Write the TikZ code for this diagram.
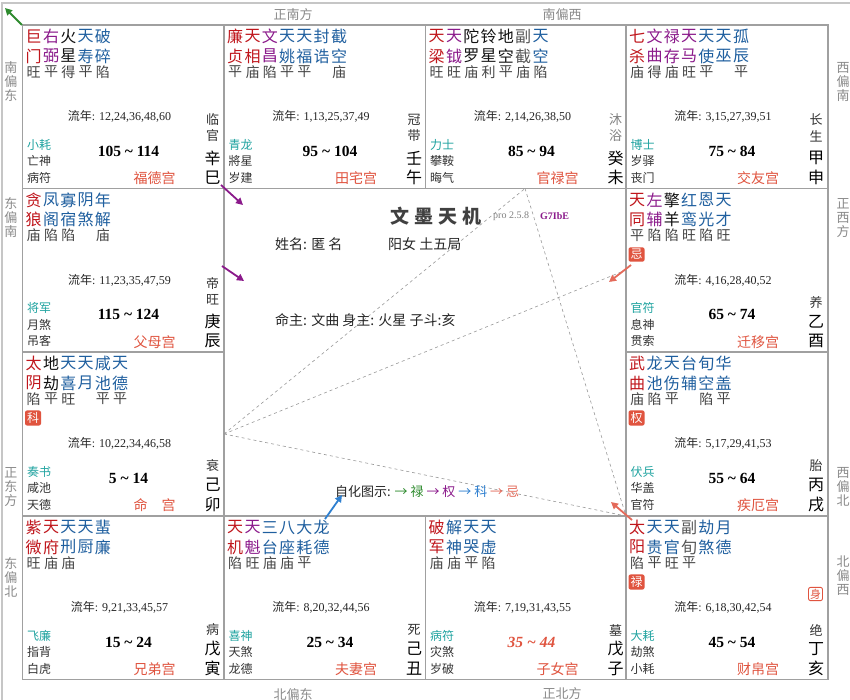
\documentclass[tikz,border=0pt]{standalone}
\usepackage{fontspec}
\setmainfont{Liberation Serif}
\newfontfamily\cjk{Noto Sans CJK SC}
\usetikzlibrary{arrows.meta}
\definecolor{sr}{HTML}{C0161C}
\definecolor{sp}{HTML}{8B1A8B}
\definecolor{sb}{HTML}{1F5F9F}
\definecolor{sk}{HTML}{111111}
\definecolor{sg}{HTML}{555555}
\definecolor{brc}{HTML}{444444}
\definecolor{tealc}{HTML}{1FA3A0}
\definecolor{godc}{HTML}{333333}
\definecolor{palred}{HTML}{E0543F}
\definecolor{gridc}{HTML}{A0A0A0}
\definecolor{dirc}{HTML}{8A8A8A}
\definecolor{stagec}{HTML}{333333}
\definecolor{huagreen}{HTML}{2E8B2E}
\definecolor{huapur}{HTML}{8B1A8B}
\definecolor{huablue}{HTML}{2F80D0}
\definecolor{huared}{HTML}{E46A5A}
\tikzset{
  starf/.style={font=\cjk\fontsize{16}{16}\selectfont, inner sep=0},
  brf/.style={font=\cjk\fontsize{14}{14}\selectfont, text=brc, inner sep=0},
  lnf/.style={font=\fontsize{12}{12}\selectfont, text=black!85, inner sep=0},
  godf/.style={anchor=west, font=\cjk\fontsize{12}{12}\selectfont, text=godc, inner sep=0},
  rngf/.style={font=\bfseries\fontsize{15.5}{15.5}\selectfont, inner sep=0},
  palf/.style={font=\cjk\fontsize{14}{14}\selectfont, text=palred, inner sep=0},
  gzf/.style={font=\cjk\fontsize{16}{16}\selectfont, text=black, inner sep=0},
  stgf/.style={font=\cjk\fontsize{13}{13}\selectfont, inner sep=0},
  badge/.style={fill=palred, text=white, rounded corners=2pt, inner sep=2pt, font=\cjk\fontsize{12}{12}\selectfont},
  shen/.style={draw=palred, text=palred, fill=white, rounded corners=2pt, line width=0.9pt, inner sep=1.5pt, font=\cjk\fontsize{11}{11}\selectfont},
  dirv/.style={font=\cjk\fontsize{13}{14}\selectfont, text=dirc, align=center, inner sep=0},
  dirh/.style={font=\cjk\fontsize{13}{13}\selectfont, text=dirc, inner sep=0},
  cellline/.style={draw=gridc, line width=1.3pt},
  tri/.style={draw=gray!80, dashed, line width=0.6pt},
  hua/.style={line width=1.8pt, -{Triangle[length=7pt,width=7pt]}},
  ctext/.style={font=\cjk\fontsize{14}{14}\selectfont, text=black!85, inner sep=0, anchor=west}
}
\newcommand\starc[5]{%
  \node[starf,text=#2] (s#1a) at ({11.2+17.3*#1},11.5) {#3};
  \node[starf,text=#2] (s#1b) at ({11.2+17.3*#1},31) {#4};
  \node[brf] (s#1c) at ({11.2+17.3*#1},47) {#5};}
\newcommand\cellinfo[6][]{%
  \node[lnf] (ln) at (97,91.5) {{\cjk 流年}: #2};
  \node[godf,text=tealc] (g1) at (4.5,119.5) {#3};
  \node[godf] (g2) at (4.5,136) {#4};
  \node[godf] (g3) at (4.5,152.8) {#5};
  \node[rngf,#1] (rg) at (106,126) {#6};}
\newcommand\palinfo[3]{%
  \node[palf] (pn) at (132,153.5) {#1};
  \node[gzf] (gz1) at (190,133) {#2};
  \node[gzf] (gz2) at (190,152.5) {#3};}
\newcommand\stagetwo[3][stagec]{%
  \node[stgf,text=#1] (st1) at (190,95) {#2};
  \node[stgf,text=#1] (st2) at (190,111) {#3};}
\newcommand\stageone[1]{\node[stgf,text=stagec] (st1) at (190,114) {#1};}
\newcommand\cellbox[1]{\draw[cellline] (0,0) rectangle (#1,163.5);}
\newcommand\tl{\ \textasciitilde\ }
\begin{document}
\begin{tikzpicture}[x=1pt,y=-1pt]
\useasboundingbox (0,0) rectangle (850,700);
\fill[white] (0,0) rectangle (850,700);
\draw[gray!45, line width=1.2pt] (2,700) -- (2,3) -- (850,3);

% direction labels
\node[dirh] (dn1) at (293,15) {正南方};
\node[dirh] (dn2) at (562,15) {南偏西};
\node[dirh] (ds1) at (293,694) {北偏东};
\node[dirh] (ds2) at (562,694) {正北方};
\node[dirv] (dw1) at (11,82) {南\\偏\\东};
\node[dirv] (dw2) at (11,218) {东\\偏\\南};
\node[dirv] (dw3) at (11,487) {正\\东\\方};
\node[dirv] (dw4) at (11,577) {东\\偏\\北};
\node[dirv] (de1) at (843,82) {西\\偏\\南};
\node[dirv] (de2) at (843,218) {正\\西\\方};
\node[dirv] (de3) at (843,487) {西\\偏\\北};
\node[dirv] (de4) at (843,576) {北\\偏\\西};

% 巳 福德宫
\begin{scope}[shift={(22.5,25)}, name prefix=si-]
\cellbox{201.5}
\starc{0}{sr}{巨}{门}{旺}
\starc{1}{sp}{右}{弼}{平}
\starc{2}{sk}{火}{星}{得}
\starc{3}{sb}{天}{寿}{平}
\starc{4}{sb}{破}{碎}{陷}
\cellinfo{12,24,36,48,60}{小耗}{亡神}{病符}{105\tl 114}
\palinfo{福德宫}{辛}{巳}
\stagetwo{临}{官}
\end{scope}

% 午 田宅宫
\begin{scope}[shift={(224,25)}, name prefix=wu-]
\cellbox{201.5}
\starc{0}{sr}{廉}{贞}{平}
\starc{1}{sr}{天}{相}{庙}
\starc{2}{sp}{文}{昌}{陷}
\starc{3}{sb}{天}{姚}{平}
\starc{4}{sb}{天}{福}{平}
\starc{5}{sb}{封}{诰}{}
\starc{6}{sb}{截}{空}{庙}
\cellinfo{1,13,25,37,49}{青龙}{將星}{岁建}{95\tl 104}
\palinfo{田宅宫}{壬}{午}
\stagetwo{冠}{带}
\end{scope}

% 未 官禄宫
\begin{scope}[shift={(425.5,25)}, name prefix=wei-]
\cellbox{200.5}
\starc{0}{sr}{天}{梁}{旺}
\starc{1}{sp}{天}{钺}{旺}
\starc{2}{sk}{陀}{罗}{庙}
\starc{3}{sk}{铃}{星}{利}
\starc{4}{sk}{地}{空}{平}
\starc{5}{sg}{副}{截}{庙}
\starc{6}{sb}{天}{空}{陷}
\cellinfo{2,14,26,38,50}{力士}{攀鞍}{晦气}{85\tl 94}
\palinfo{官禄宫}{癸}{未}
\stagetwo[gray]{沐}{浴}
\end{scope}

% 申 交友宫
\begin{scope}[shift={(626,25)}, name prefix=shen-]
\cellbox{202}
\starc{0}{sr}{七}{杀}{庙}
\starc{1}{sp}{文}{曲}{得}
\starc{2}{sp}{禄}{存}{庙}
\starc{3}{sp}{天}{马}{旺}
\starc{4}{sb}{天}{使}{平}
\starc{5}{sb}{天}{巫}{}
\starc{6}{sb}{孤}{辰}{平}
\cellinfo{3,15,27,39,51}{博士}{岁驿}{丧门}{75\tl 84}
\palinfo{交友宫}{甲}{申}
\stagetwo{长}{生}
\end{scope}

% 辰 父母宫
\begin{scope}[shift={(22.5,188.5)}, name prefix=chen-]
\cellbox{201.5}
\starc{0}{sr}{贪}{狼}{庙}
\starc{1}{sb}{凤}{阁}{陷}
\starc{2}{sb}{寡}{宿}{陷}
\starc{3}{sb}{阴}{煞}{}
\starc{4}{sb}{年}{解}{庙}
\cellinfo{11,23,35,47,59}{将军}{月煞}{吊客}{115\tl 124}
\palinfo{父母宫}{庚}{辰}
\stagetwo{帝}{旺}
\end{scope}

% 酉 迁移宫
\begin{scope}[shift={(626,188.5)}, name prefix=you-]
\cellbox{202}
\starc{0}{sr}{天}{同}{平}
\starc{1}{sp}{左}{辅}{陷}
\starc{2}{sk}{擎}{羊}{陷}
\starc{3}{sb}{红}{鸾}{旺}
\starc{4}{sb}{恩}{光}{陷}
\starc{5}{sb}{天}{才}{旺}
\node[badge] (bd) at (10.5,66) {忌};
\cellinfo{4,16,28,40,52}{官符}{息神}{贯索}{65\tl 74}
\palinfo{迁移宫}{乙}{酉}
\stageone{养}
\end{scope}

% 卯 命宫
\begin{scope}[shift={(22.5,352)}, name prefix=mao-]
\cellbox{201.5}
\starc{0}{sr}{太}{阴}{陷}
\starc{1}{sk}{地}{劫}{平}
\starc{2}{sb}{天}{喜}{旺}
\starc{3}{sb}{天}{月}{}
\starc{4}{sb}{咸}{池}{平}
\starc{5}{sb}{天}{德}{平}
\node[badge] (bd) at (10.5,66) {科};
\cellinfo{10,22,34,46,58}{奏书}{咸池}{天德}{5\tl 14}
\palinfo{命\hspace{14pt}宫}{己}{卯}
\stageone{衰}
\end{scope}

% 戌 疾厄宫
\begin{scope}[shift={(626,352)}, name prefix=xu-]
\cellbox{202}
\starc{0}{sr}{武}{曲}{庙}
\starc{1}{sb}{龙}{池}{陷}
\starc{2}{sb}{天}{伤}{平}
\starc{3}{sb}{台}{辅}{}
\starc{4}{sb}{旬}{空}{陷}
\starc{5}{sb}{华}{盖}{平}
\node[badge] (bd) at (10.5,66) {权};
\cellinfo{5,17,29,41,53}{伏兵}{华盖}{官符}{55\tl 64}
\palinfo{疾厄宫}{丙}{戌}
\stageone{胎}
\end{scope}

% 寅 兄弟宫
\begin{scope}[shift={(22.5,516)}, name prefix=yin-]
\cellbox{201.5}
\starc{0}{sr}{紫}{微}{旺}
\starc{1}{sr}{天}{府}{庙}
\starc{2}{sb}{天}{刑}{庙}
\starc{3}{sb}{天}{厨}{}
\starc{4}{sb}{蜚}{廉}{}
\cellinfo{9,21,33,45,57}{飞廉}{指背}{白虎}{15\tl 24}
\palinfo{兄弟宫}{戊}{寅}
\stageone{病}
\end{scope}

% 丑 夫妻宫
\begin{scope}[shift={(224,516)}, name prefix=chou-]
\cellbox{201.5}
\starc{0}{sr}{天}{机}{陷}
\starc{1}{sp}{天}{魁}{旺}
\starc{2}{sb}{三}{台}{庙}
\starc{3}{sb}{八}{座}{庙}
\starc{4}{sb}{大}{耗}{平}
\starc{5}{sb}{龙}{德}{}
\cellinfo{8,20,32,44,56}{喜神}{天煞}{龙德}{25\tl 34}
\palinfo{夫妻宫}{己}{丑}
\stageone{死}
\end{scope}

% 子 子女宫
\begin{scope}[shift={(425.5,516)}, name prefix=zi-]
\cellbox{200.5}
\starc{0}{sr}{破}{军}{庙}
\starc{1}{sb}{解}{神}{庙}
\starc{2}{sb}{天}{哭}{平}
\starc{3}{sb}{天}{虚}{陷}
\cellinfo[text=palred,font=\bfseries\itshape\fontsize{15.5}{15.5}\selectfont]{7,19,31,43,55}{病符}{灾煞}{岁破}{35\tl 44}
\palinfo{子女宫}{戊}{子}
\stageone{墓}
\end{scope}

% 亥 财帛宫
\begin{scope}[shift={(626,516)}, name prefix=hai-]
\cellbox{202}
\starc{0}{sr}{太}{阳}{陷}
\starc{1}{sb}{天}{贵}{平}
\starc{2}{sb}{天}{官}{旺}
\starc{3}{sg}{副}{旬}{平}
\starc{4}{sb}{劫}{煞}{}
\starc{5}{sb}{月}{德}{}
\node[badge] (bd) at (10.5,66) {禄};
\node[shen] (sh) at (189.5,78) {身};
\cellinfo{6,18,30,42,54}{大耗}{劫煞}{小耗}{45\tl 54}
\palinfo{财帛宫}{丁}{亥}
\stageone{绝}
\end{scope}

% center
\coordinate (A) at (224,434);
\coordinate (B) at (525,188.5);
\coordinate (C) at (626,516);
\coordinate (D) at (626,270);
\draw[tri] (A) -- (B);
\draw[tri] (A) -- (D);
\draw[tri] (B) -- (C);
\draw[tri] (A) -- (C);

\node[font=\cjk\bfseries\fontsize{19}{19}\selectfont, text=black!75, inner sep=0] (title) at (436,216) {文\hspace{5pt}墨\hspace{5pt}天\hspace{5pt}机};
\node[font=\fontsize{10}{10}\selectfont, text=gray, inner sep=0, anchor=west] (ver) at (493,216) {pro 2.5.8};
\node[font=\bfseries\fontsize{10}{10}\selectfont, text=sp, inner sep=0, anchor=west] (code) at (540,216) {G7IbE};
\node[ctext] (name) at (275,244) {姓名: 匿 名};
\node[ctext] (ju) at (388,244) {阳女 土五局};
\node[ctext] (ming) at (275,320) {命主: 文曲 身主: 火星 子斗:亥};
\node[ctext, font=\cjk\fontsize{13}{13}\selectfont] (zh) at (335,492) {自化图示:
 {\color{huagreen}→ 禄} {\color{huapur}→ 权} {\color{huablue}→ 科} {\color{huared}→ 忌}};

% hua arrows
\coordinate (ga1) at (22,25); \coordinate (ga2) at (5,8);
\draw[hua,huagreen] (ga1) -- (ga2);
\coordinate (pa1) at (221,185); \coordinate (pa2) at (243,205);
\draw[hua,huapur] (pa1) -- (pa2);
\coordinate (pb1) at (222,266); \coordinate (pb2) at (244,281);
\draw[hua,huapur] (pb1) -- (pb2);
\coordinate (ra1) at (631,265); \coordinate (ra2) at (609,282);
\draw[hua,huared] (ra1) -- (ra2);
\coordinate (rb1) at (632,520); \coordinate (rb2) at (611,502);
\draw[hua,huared] (rb1) -- (rb2);
\coordinate (ba1) at (325,519); \coordinate (ba2) at (342,495);
\draw[hua,huablue] (ba1) -- (ba2);
\end{tikzpicture}
\end{document}
